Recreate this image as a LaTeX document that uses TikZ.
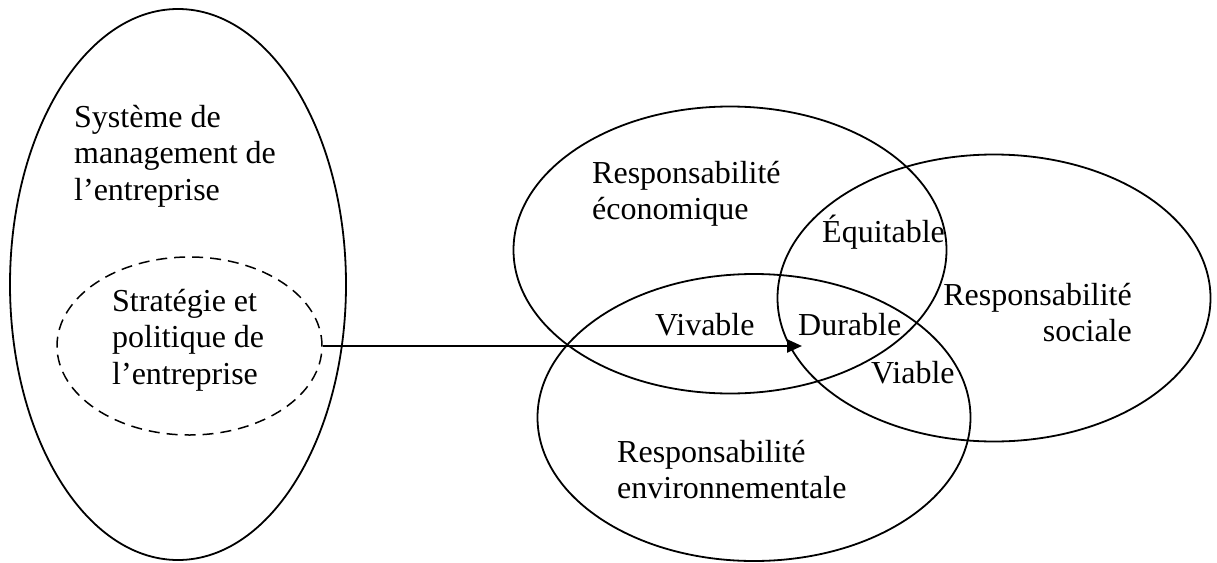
\documentclass[tikz,border=0pt]{standalone}
\usepackage{fontspec}
\setmainfont{Liberation Serif}
\usetikzlibrary{shapes.geometric,arrows.meta}
\begin{document}
\begin{tikzpicture}[x=1pt,y=-1pt,
  oval/.style={draw=black,ellipse,inner sep=0pt,line width=1.8pt},
  dashoval/.style={oval,dash pattern=on 11pt off 7pt,line width=1.5pt},
  lbl/.style={inner sep=0pt,anchor=base west,font=\fontsize{32}{36.7}\selectfont},
  lblr/.style={lbl,anchor=base east},
  conn/.style={line width=2.4pt,-{Triangle[length=15pt,width=13pt]}}]
\useasboundingbox[fill=white] (0,0) rectangle (1217,562);
% left system
\node[oval,minimum width=336pt,minimum height=551pt] (sys) at (178,284.5) {};
\node[dashoval,minimum width=265pt,minimum height=178pt] (strat) at (189.5,346) {};
\node[lbl] (s1) at (74,127) {Système de};
\node[lbl] (s2) at (74,163.7) {management de};
\node[lbl] (s3) at (74,200.4) {l’entreprise};
\node[lbl] (p1) at (112,311) {Stratégie et};
\node[lbl] (p2) at (112,347.7) {politique de};
\node[lbl] (p3) at (112,384.4) {l’entreprise};
% Venn
\node[oval,minimum width=433pt,minimum height=287pt] (eco) at (730,250) {};
\node[oval,minimum width=433pt,minimum height=287pt] (soc) at (994,298) {};
\node[oval,minimum width=433pt,minimum height=287pt] (env) at (754,417.5) {};
\node[lbl] (e1) at (592,183) {Responsabilité};
\node[lbl] (e2) at (592,219.7) {économique};
\node[lbl] (eq) at (822,242) {Équitable};
\node[lblr] (r1) at (1132,305) {Responsabilité};
\node[lblr] (r2) at (1132,341.7) {sociale};
\node[lbl] (viv) at (655,335) {Vivable};
\node[lbl] (dur) at (798,335) {Durable};
\node[lbl] (via) at (871,383) {Viable};
\node[lbl] (n1) at (617,462) {Responsabilité};
\node[lbl] (n2) at (617,498.7) {environnementale};
% arrow
\coordinate (tip) at (802,346);
\draw[conn] (strat.east) -- (tip);
\end{tikzpicture}
\end{document}
